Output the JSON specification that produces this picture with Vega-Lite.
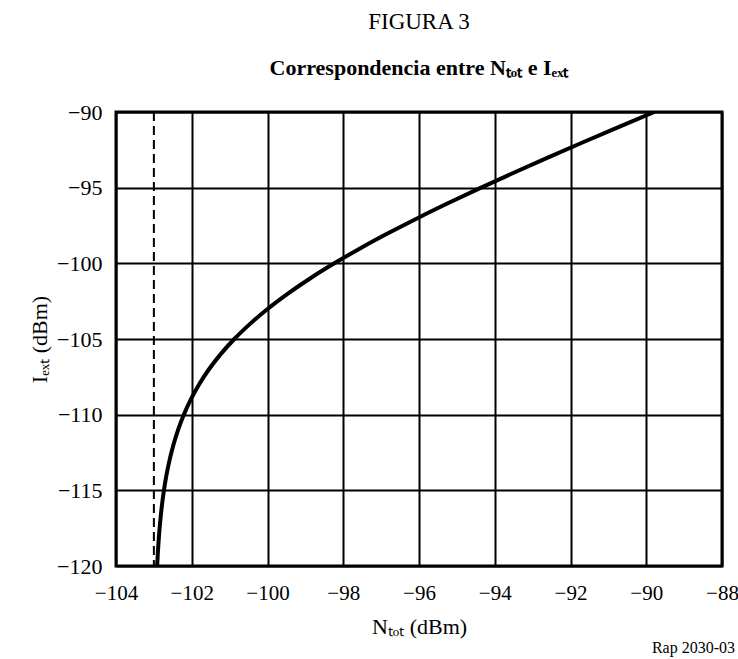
{
  "$schema": "https://vega.github.io/schema/vega-lite/v6.json",
  "width": 606,
  "height": 454,
  "autosize": "none",
  "padding": {"left": 116, "top": 112, "right": 16, "bottom": 93},
  "background": "white",
  "config": {
    "font": "Liberation Serif",
    "view": {"stroke": "black", "strokeWidth": 3},
    "axis": {
      "labelFont": "Liberation Serif",
      "titleFont": "Liberation Serif",
      "labelFontSize": 22,
      "titleFontSize": 22,
      "labelColor": "black",
      "titleColor": "black",
      "titleFontWeight": "normal",
      "labelFlush": false,
      "labelOverlap": false,
      "grid": true,
      "gridColor": "black",
      "gridWidth": 2,
      "gridOpacity": 1,
      "domain": false,
      "ticks": false
    }
  },
  "title": {
    "text": "FIGURA 3",
    "subtitle": "Correspondencia entre  Nₜₒₜ e Iₑₓₜ",
    "font": "Liberation Serif",
    "subtitleFont": "Liberation Serif",
    "fontSize": 23,
    "subtitleFontSize": 22,
    "fontWeight": "normal",
    "subtitleFontWeight": "bold",
    "color": "black",
    "subtitleColor": "black",
    "anchor": "middle",
    "subtitlePadding": 24,
    "offset": 22
  },
  "datasets": {
    "curve": [
      {"i": -120, "n": -102.914},
      {"i": -119, "n": -102.892},
      {"i": -118, "n": -102.865},
      {"i": -117, "n": -102.830},
      {"i": -116, "n": -102.788},
      {"i": -115, "n": -102.734},
      {"i": -114, "n": -102.668},
      {"i": -113, "n": -102.586},
      {"i": -112, "n": -102.485},
      {"i": -111, "n": -102.361},
      {"i": -110, "n": -102.210},
      {"i": -109, "n": -102.027},
      {"i": -108, "n": -101.807},
      {"i": -107, "n": -101.545},
      {"i": -106, "n": -101.236},
      {"i": -105, "n": -100.876},
      {"i": -104, "n": -100.461},
      {"i": -103, "n": -99.990},
      {"i": -102, "n": -99.461},
      {"i": -101, "n": -98.876},
      {"i": -100, "n": -98.236},
      {"i": -99, "n": -97.545},
      {"i": -98, "n": -96.807},
      {"i": -97, "n": -96.027},
      {"i": -96, "n": -95.210},
      {"i": -95, "n": -94.361},
      {"i": -94, "n": -93.485},
      {"i": -93, "n": -92.586},
      {"i": -92, "n": -91.668},
      {"i": -91, "n": -90.734},
      {"i": -90, "n": -89.788}
    ]
  },
  "layer": [
    {
      "data": {"values": [{"n": -103}]},
      "mark": {"type": "rule", "color": "black", "strokeWidth": 2, "strokeDash": [9, 5]},
      "encoding": {
        "x": {"field": "n", "type": "quantitative"}
      }
    },
    {
      "data": {"name": "curve"},
      "mark": {"type": "line", "color": "black", "strokeWidth": 4, "interpolate": "monotone", "clip": true},
      "encoding": {
        "x": {
          "field": "n", "type": "quantitative",
          "scale": {"domain": [-104, -88], "nice": false, "zero": false},
          "axis": {"values": [-104, -102, -100, -98, -96, -94, -92, -90, -88], "title": "Nₜₒₜ (dBm)", "labelFontSize": 21, "labelPadding": 16, "titlePadding": 13}
        },
        "y": {
          "field": "i", "type": "quantitative",
          "scale": {"domain": [-120, -90], "nice": false, "zero": false},
          "axis": {"values": [-120, -115, -110, -105, -100, -95, -90], "title": "Iₑₓₜ (dBm)", "labelPadding": 14, "titlePadding": 5}
        },
        "order": {"field": "i", "type": "quantitative"}
      }
    },
    {
      "data": {"values": [{"n": -88, "i": -120, "label": "Rap 2030-03"}]},
      "mark": {"type": "text", "align": "right", "baseline": "middle", "fontSize": 16, "font": "Liberation Serif", "dx": 13, "dy": 82, "color": "black"},
      "encoding": {
        "x": {"field": "n", "type": "quantitative"},
        "y": {"field": "i", "type": "quantitative"},
        "text": {"field": "label"}
      }
    }
  ]
}
